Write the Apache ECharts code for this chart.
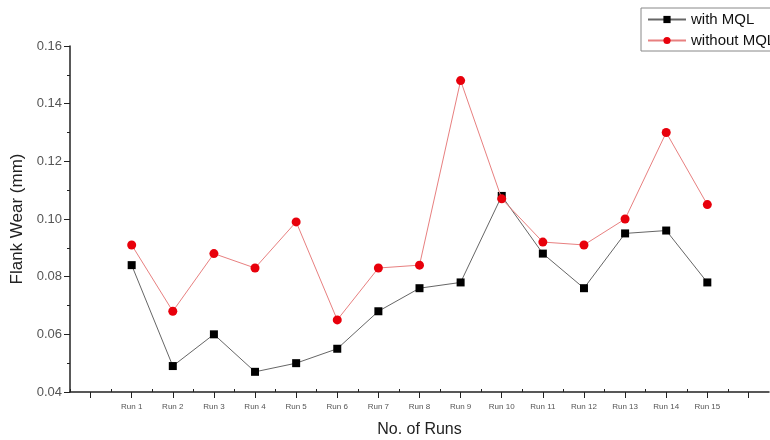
<!DOCTYPE html>
<html>
<head>
<meta charset="utf-8">
<script src="https://cdn.jsdelivr.net/npm/echarts@6/dist/echarts.min.js"></script>
<style>
html,body{margin:0;padding:0;background:#fff;}
#c{width:770px;height:440px;}
</style>
</head>
<body>
<div id="c"></div>
<script>
const runs = [1,2,3,4,5,6,7,8,9,10,11,12,13,14,15];
const runLabels = ['Run 1','Run 2','Run 3','Run 4','Run 5','Run 6','Run 7','Run 8','Run 9','Run 10','Run 11','Run 12','Run 13','Run 14','Run 15'];
const withMQL = [0.084,0.049,0.060,0.047,0.050,0.055,0.068,0.076,0.078,0.108,0.088,0.076,0.095,0.096,0.078];
const withoutMQL = [0.091,0.068,0.088,0.083,0.099,0.065,0.083,0.084,0.148,0.107,0.092,0.091,0.100,0.130,0.105];
const yTicks = [0.04,0.06,0.08,0.10,0.12,0.14,0.16];

const font = 'Liberation Sans, Arial, sans-serif';
const majorX = [];
for (let i = 0; i <= 16; i++) majorX.push(i);
const minorX = [];
for (let i = 0; i <= 16; i++) minorX.push(i - 0.5);

const chart = echarts.init(document.getElementById('c'), null, {renderer:'canvas'});
chart.setOption({
  animation:false,
  backgroundColor:'#fff',
  grid:{left:70,right:1,top:46,bottom:48,containLabel:false,outerBoundsMode:'none'},
  legend:{
    left:641, top:8,
    orient:'vertical',
    data:['with MQL','without MQL'],
    borderColor:'#888', borderWidth:1,
    padding:[4,4,3,6],
    itemWidth:38, itemHeight:9, itemGap:6,
    textStyle:{fontFamily:font,fontSize:15,color:'#111'}
  },
  xAxis:[{
    type:'value', min:-0.5, max:16.5,
    name:'No. of Runs', nameLocation:'middle', nameGap:30,
    nameTextStyle:{fontFamily:font,fontSize:16,color:'#222'},
    splitLine:{show:false},
    axisLine:{show:true,onZero:false,lineStyle:{color:'#222',width:1.5}},
    axisTick:{show:true,customValues:majorX,length:6,lineStyle:{color:'#222'}},
    axisLabel:{show:true,customValues:runs,fontFamily:font,fontSize:8,color:'#555',margin:11,
      formatter:function(v){ const i = runs.indexOf(Math.round(v)); return i>=0 ? runLabels[i] : ''; }}
  },{
    type:'value', min:-0.5, max:16.5, position:'bottom',
    splitLine:{show:false},
    axisLine:{show:false,onZero:false},
    axisTick:{show:true,inside:true,customValues:minorX,length:3,lineStyle:{color:'#222'}},
    axisLabel:{show:false}
  }],
  yAxis:{
    type:'value', min:0.04, max:0.16, interval:0.02,
    name:'Flank Wear (mm)', nameLocation:'middle', nameGap:40,
    nameTextStyle:{fontFamily:font,fontSize:17,color:'#222'},
    splitLine:{show:false},
    axisLine:{show:true,onZero:false,lineStyle:{color:'#222',width:1.5}},
    axisTick:{show:true,length:6,lineStyle:{color:'#222'}},
    minorTick:{show:true,splitNumber:2,length:3,lineStyle:{color:'#222'}},
    axisLabel:{fontFamily:font,fontSize:13,color:'#555',margin:8,
      customValues:yTicks,
      formatter:function(v){return v.toFixed(2);}}
  },
  series:[{
    name:'with MQL', type:'line',
    data:runs.map((r,i)=>[r,withMQL[i]]),
    symbol:'rect', symbolSize:8,
    itemStyle:{color:'#000'},
    lineStyle:{color:'#666',width:1},
    z:2
  },{
    name:'without MQL', type:'line',
    data:runs.map((r,i)=>[r,withoutMQL[i]]),
    symbol:'circle', symbolSize:9,
    itemStyle:{color:'#e8000b'},
    lineStyle:{color:'#e88080',width:1},
    z:3
  }]
});
</script>
</body>
</html>
